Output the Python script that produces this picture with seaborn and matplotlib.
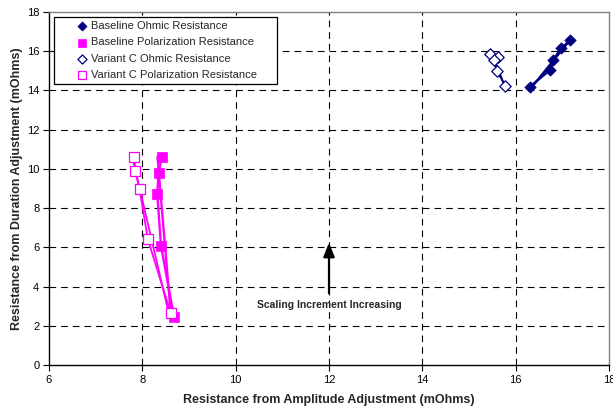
import numpy as np
import pandas as pd
import matplotlib
matplotlib.use("Agg")
import matplotlib.pyplot as plt
import seaborn as sns

# Resistance readings (mOhms): x from amplitude adjustment, y from duration adjustment
base_ohmic_x = [16.31, 16.74, 16.81, 16.97, 17.17]
base_ohmic_y = [14.20, 15.05, 15.56, 16.15, 16.55]

base_pol_x = [8.42, 8.35, 8.32, 8.40, 8.68]
base_pol_y = [10.63, 9.81, 8.73, 6.08, 2.43]

varc_ohmic_x = [15.46, 15.62, 15.53, 15.60, 15.78]
varc_ohmic_y = [15.85, 15.70, 15.55, 14.98, 14.24]

varc_pol_x = [7.83, 7.85, 7.94, 8.12, 8.61]
varc_pol_y = [10.63, 9.91, 8.96, 6.40, 2.63]

series_names = [
    "Baseline Ohmic Resistance",
    "Baseline Polarization Resistance",
    "Variant C Ohmic Resistance",
    "Variant C Polarization Resistance",
]

x_ticks = [6, 8, 10, 12, 14, 16, 18]
y_ticks = [0, 2, 4, 6, 8, 10, 12, 14, 16, 18]

NAVY = "#000080"
MAGENTA = "#FF00FF"

sns.set_theme(style="white")
plt.rcParams["font.family"] = ["Liberation Sans", "DejaVu Sans"]

fig = plt.figure(figsize=(6.13, 4.13), dpi=100)
ax = fig.add_axes([49 / 613, 1 - 365 / 413, 560 / 613, 353 / 413])

series = [
    (base_ohmic_x, base_ohmic_y, series_names[0], "D", NAVY, True, 5.8),
    (base_pol_x, base_pol_y, series_names[1], "s", MAGENTA, True, 6.8),
    (varc_ohmic_x, varc_ohmic_y, series_names[2], "D", NAVY, False, 5.8),
    (varc_pol_x, varc_pol_y, series_names[3], "s", MAGENTA, False, 6.8),
]

for xs, ys, name, mk, col, filled, ms in series:
    df = pd.DataFrame({"x": xs, "y": ys})
    lw = 1.7 if filled else 1.3
    # connecting line in measurement order
    sns.lineplot(data=df, x="x", y="y", sort=False, estimator=None, color=col,
                 lw=lw, ax=ax, zorder=3, legend=False)
    # linear trend of x against y, across the measured y range
    b, a = np.polyfit(df["y"], df["x"], 1)
    yy = np.array([df["y"].min(), df["y"].max()])
    sns.lineplot(x=a + b * yy, y=yy, sort=False, estimator=None, color=col,
                 lw=lw, ax=ax, zorder=3, legend=False)
    sns.scatterplot(data=df, x="x", y="y", marker=mk, s=ms ** 2,
                    color=col if filled else "white",
                    edgecolor=col, linewidth=0.9 if not filled else 0.5,
                    label=name, ax=ax, zorder=4)

ax.set_xlim(6, 18)
ax.set_ylim(0, 18)
ax.set_xticks(x_ticks)
ax.set_yticks(y_ticks)
ax.set_xticklabels([str(t) for t in x_ticks], fontsize=8)
ax.set_yticklabels([str(t) for t in y_ticks], fontsize=8)
ax.tick_params(axis="both", direction="out", length=4, width=0.8, color="black",
               pad=3, labelcolor="black", bottom=True, left=True)

# dashed interior grid
for xv in x_ticks[1:-1]:
    ax.axvline(xv, color="black", lw=0.8, dashes=(6, 4.5), zorder=1)
for yv in y_ticks[1:-1]:
    ax.axhline(yv, color="black", lw=0.8, dashes=(6, 4.5), zorder=1)

for side in ["left", "bottom"]:
    ax.spines[side].set_color("black")
    ax.spines[side].set_linewidth(1.0)
for side in ["top", "right"]:
    ax.spines[side].set_color("#808080")
    ax.spines[side].set_linewidth(1.0)

ax.set_xlabel("Resistance from Amplitude Adjustment (mOhms)", fontsize=9,
              fontweight="bold", labelpad=7)
ax.set_ylabel("Resistance from Duration Adjustment (mOhms)", fontsize=9,
              fontweight="bold", labelpad=3)

ax.annotate("", xy=(12, 6.24), xytext=(12, 3.66),
            arrowprops=dict(arrowstyle="-|>,head_length=0.6,head_width=0.24",
                            lw=1.6, color="black", mutation_scale=14,
                            shrinkA=0, shrinkB=0), zorder=5)
ax.text(12.0, 3.06, "Scaling Increment Increasing", fontsize=7.5,
        fontweight="bold", ha="center", va="center", zorder=5)

leg = ax.legend(loc="upper left", bbox_to_anchor=(0.0089, 0.773, 0.398, 0.213),
                mode="expand", borderaxespad=0, fontsize=8, frameon=True,
                fancybox=False, edgecolor="black", framealpha=1,
                handlelength=4.2, handletextpad=-1.3, labelspacing=0.55,
                borderpad=0.4, markerscale=0.8)
leg.get_frame().set_linewidth(0.9)
leg.set_zorder(6)

fig.savefig("out.png", dpi=100)
